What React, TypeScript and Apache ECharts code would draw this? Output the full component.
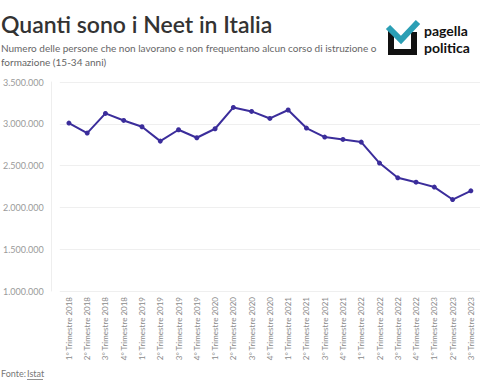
import React, { useEffect, useRef } from "react";
import * as echarts from "echarts";

const categories: string[] = [
  "1° Trimestre 2018", "2° Trimestre 2018", "3° Trimestre 2018", "4° Trimestre 2018",
  "1° Trimestre 2019", "2° Trimestre 2019", "3° Trimestre 2019", "4° Trimestre 2019",
  "1° Trimestre 2020", "2° Trimestre 2020", "3° Trimestre 2020", "4° Trimestre 2020",
  "1° Trimestre 2021", "2° Trimestre 2021", "3° Trimestre 2021", "4° Trimestre 2021",
  "1° Trimestre 2022", "2° Trimestre 2022", "3° Trimestre 2022", "4° Trimestre 2022",
  "1° Trimestre 2023", "2° Trimestre 2023", "3° Trimestre 2023",
];

const neet: number[] = [
  3009000, 2889000, 3124000, 3040000,
  2965000, 2793000, 2929000, 2833000,
  2941000, 3196000, 3148000, 3064000,
  3165000, 2949000, 2841000, 2813000,
  2781000, 2530000, 2354000, 2302000,
  2243000, 2094000, 2198000,
];

const yTicks = { min: 1000000, max: 3500000, interval: 500000 };

const title = "Quanti sono i Neet in Italia";
const subtitle1 = "Numero delle persone che non lavorano e non frequentano alcun corso di istruzione o";
const subtitle2 = "formazione (15-34 anni)";
const sourceLabel = "Fonte:";
const sourceName = "Istat";
const brand1 = "pagella";
const brand2 = "politica";

const fmt = (v: number) => String(Math.round(v)).replace(/\B(?=(\d{3})+(?!\d))/g, ".");

export default function App() {
  const ref = useRef<HTMLDivElement>(null);
  useEffect(() => {
    if (!ref.current) return;
    const chart = echarts.init(ref.current, null, { renderer: "svg" });
    const font = "Lato";
    chart.setOption({
      animation: false,
      backgroundColor: "#ffffff",
      grid: { left: 45, top: 82, width: 442, height: 209, containLabel: false },
      xAxis: {
        type: "category",
        data: categories,
        boundaryGap: true,
        axisLine: { show: false },
        axisTick: { show: false },
        splitLine: { show: false },
        axisLabel: {
          rotate: 90,
          interval: 0,
          fontSize: 8,
          fontFamily: font,
          color: "#8a8a8a",
          margin: 6,
        },
      },
      yAxis: {
        type: "value",
        min: yTicks.min,
        max: yTicks.max,
        interval: yTicks.interval,
        offset: 9,
        axisLine: { show: true, lineStyle: { color: "#eeeeee", width: 1 } },
        axisTick: { show: false },
        splitLine: { show: true, lineStyle: { color: "#efefef", width: 1 } },
        axisLabel: {
          formatter: (v: number) => fmt(v),
          fontSize: 9,
          fontFamily: font,
          color: "#9a9a9a",
          margin: 7,
        },
      },
      series: [
        {
          type: "line",
          data: neet,
          symbol: "circle",
          symbolSize: 5,
          lineStyle: { color: "#3b2d9b", width: 2 },
          itemStyle: { color: "#3b2d9b" },
          clip: false,
        },
      ],
      graphic: [
        {
          type: "text",
          left: 1,
          top: 12,
          style: { text: title, font: `600 23px ${font}`, fill: "#333333" },
        },
        {
          type: "text",
          left: 1,
          top: 43,
          style: { text: subtitle1, font: `10px ${font}`, fill: "#666666" },
        },
        {
          type: "text",
          left: 1,
          top: 57,
          style: { text: subtitle2, font: `10px ${font}`, fill: "#666666" },
        },
        {
          type: "text",
          left: 1,
          top: 369,
          style: { text: sourceLabel, font: `9px ${font}`, fill: "#777777" },
        },
        {
          type: "text",
          left: 27,
          top: 369,
          style: { text: sourceName, font: `9px ${font}`, fill: "#777777" },
        },
        {
          type: "line",
          shape: { x1: 27, y1: 379.5, x2: 43, y2: 379.5 },
          style: { stroke: "#777777", lineWidth: 0.8 },
        },
        {
          type: "polyline",
          shape: { points: [[391, 31], [391, 52], [414, 52], [414, 32]] },
          style: { stroke: "#111111", lineWidth: 6, fill: null, lineJoin: "miter" },
        },
        {
          type: "polyline",
          shape: { points: [[388, 27], [401, 40], [418, 22]] },
          style: { stroke: "#2b9fb5", lineWidth: 6, fill: null, lineJoin: "miter" },
        },
        {
          type: "text",
          x: 424,
          y: 23,
          style: { text: brand1, font: `bold 14px ${font}`, fill: "#111111" },
        },
        {
          type: "text",
          x: 424,
          y: 40,
          style: { text: brand2, font: `bold 14px ${font}`, fill: "#111111" },
        },
      ],
    });
    return () => chart.dispose();
  }, []);
  return <div ref={ref} style={{ width: 480, height: 384, position: "absolute", left: 0, top: 0 }} />;
}
